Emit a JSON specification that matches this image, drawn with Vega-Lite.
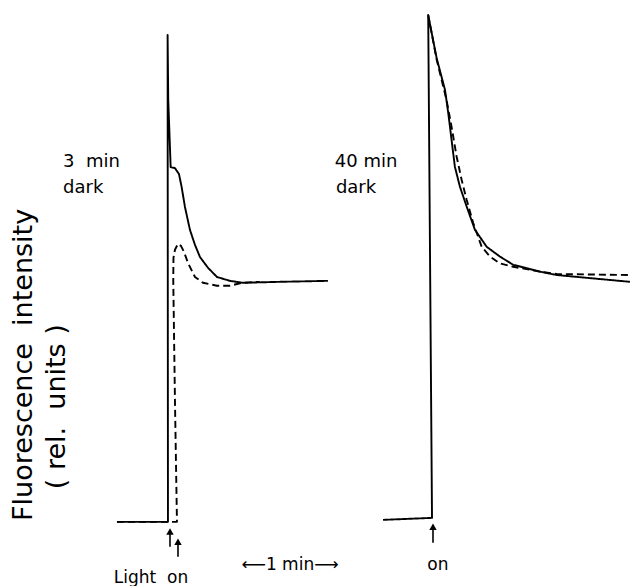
{
  "$schema": "https://vega.github.io/schema/vega-lite/v6.json",
  "width": 632,
  "height": 586,
  "autosize": {"type": "fit", "contains": "padding"},
  "padding": 0,
  "background": "white",
  "config": {"view": {"stroke": null}},
  "datasets": {
    "curves": [
      {"panel": "3 min dark", "series": "trace 1", "i": 1, "t": -29.45, "f": 0},
      {"panel": "3 min dark", "series": "trace 1", "i": 2, "t": 0, "f": 0},
      {"panel": "3 min dark", "series": "trace 1", "i": 3, "t": -0.2, "f": 100.2},
      {"panel": "3 min dark", "series": "trace 1", "i": 4, "t": 0.17, "f": 86.8},
      {"panel": "3 min dark", "series": "trace 1", "i": 5, "t": 1.56, "f": 73.0},
      {"panel": "3 min dark", "series": "trace 1", "i": 6, "t": 4.04, "f": 72.8},
      {"panel": "3 min dark", "series": "trace 1", "i": 7, "t": 6.35, "f": 71.6},
      {"panel": "3 min dark", "series": "trace 1", "i": 8, "t": 7.91, "f": 68.9},
      {"panel": "3 min dark", "series": "trace 1", "i": 9, "t": 9.82, "f": 64.8},
      {"panel": "3 min dark", "series": "trace 1", "i": 10, "t": 12.7, "f": 60.1},
      {"panel": "3 min dark", "series": "trace 1", "i": 11, "t": 15.6, "f": 57.0},
      {"panel": "3 min dark", "series": "trace 1", "i": 12, "t": 18.5, "f": 54.5},
      {"panel": "3 min dark", "series": "trace 1", "i": 13, "t": 23.1, "f": 52.3},
      {"panel": "3 min dark", "series": "trace 1", "i": 14, "t": 28.3, "f": 50.4},
      {"panel": "3 min dark", "series": "trace 1", "i": 15, "t": 35.8, "f": 49.6},
      {"panel": "3 min dark", "series": "trace 1", "i": 16, "t": 43.3, "f": 49.2},
      {"panel": "3 min dark", "series": "trace 1", "i": 17, "t": 64.7, "f": 49.4},
      {"panel": "3 min dark", "series": "trace 1", "i": 18, "t": 92.4, "f": 49.6},

      {"panel": "3 min dark", "series": "trace 2", "i": 1, "t": -29.45, "f": 0},
      {"panel": "3 min dark", "series": "trace 2", "i": 2, "t": 5.2, "f": 0},
      {"panel": "3 min dark", "series": "trace 2", "i": 3, "t": 4.04, "f": 25.1},
      {"panel": "3 min dark", "series": "trace 2", "i": 4, "t": 3.06, "f": 49.8},
      {"panel": "3 min dark", "series": "trace 2", "i": 5, "t": 3.18, "f": 54.3},
      {"panel": "3 min dark", "series": "trace 2", "i": 6, "t": 4.04, "f": 56.0},
      {"panel": "3 min dark", "series": "trace 2", "i": 7, "t": 5.78, "f": 57.2},
      {"panel": "3 min dark", "series": "trace 2", "i": 8, "t": 7.51, "f": 56.8},
      {"panel": "3 min dark", "series": "trace 2", "i": 9, "t": 9.24, "f": 55.6},
      {"panel": "3 min dark", "series": "trace 2", "i": 10, "t": 11.55, "f": 53.3},
      {"panel": "3 min dark", "series": "trace 2", "i": 11, "t": 15.6, "f": 50.4},
      {"panel": "3 min dark", "series": "trace 2", "i": 12, "t": 20.2, "f": 49.2},
      {"panel": "3 min dark", "series": "trace 2", "i": 13, "t": 28.3, "f": 48.6},
      {"panel": "3 min dark", "series": "trace 2", "i": 14, "t": 35.8, "f": 48.6},
      {"panel": "3 min dark", "series": "trace 2", "i": 15, "t": 42.7, "f": 49.2},
      {"panel": "3 min dark", "series": "trace 2", "i": 16, "t": 53.1, "f": 49.4},

      {"panel": "40 min dark", "series": "trace 1", "i": 1, "t": 124.2, "f": 0.41},
      {"panel": "40 min dark", "series": "trace 1", "i": 2, "t": 152.5, "f": 0.82},
      {"panel": "40 min dark", "series": "trace 1", "i": 3, "t": 150.3, "f": 104.3},
      {"panel": "40 min dark", "series": "trace 1", "i": 4, "t": 155.2, "f": 95.4},
      {"panel": "40 min dark", "series": "trace 1", "i": 5, "t": 160.0, "f": 88.9},
      {"panel": "40 min dark", "series": "trace 1", "i": 6, "t": 161.9, "f": 84.1},
      {"panel": "40 min dark", "series": "trace 1", "i": 7, "t": 163.8, "f": 78.6},
      {"panel": "40 min dark", "series": "trace 1", "i": 8, "t": 165.7, "f": 73.1},
      {"panel": "40 min dark", "series": "trace 1", "i": 9, "t": 168.6, "f": 69.0},
      {"panel": "40 min dark", "series": "trace 1", "i": 10, "t": 172.5, "f": 64.9},
      {"panel": "40 min dark", "series": "trace 1", "i": 11, "t": 177.3, "f": 60.1},
      {"panel": "40 min dark", "series": "trace 1", "i": 12, "t": 184.1, "f": 56.6},
      {"panel": "40 min dark", "series": "trace 1", "i": 13, "t": 191.7, "f": 54.6},
      {"panel": "40 min dark", "series": "trace 1", "i": 14, "t": 199.4, "f": 52.9},
      {"panel": "40 min dark", "series": "trace 1", "i": 15, "t": 214.8, "f": 51.5},
      {"panel": "40 min dark", "series": "trace 1", "i": 16, "t": 224.5, "f": 50.8},
      {"panel": "40 min dark", "series": "trace 1", "i": 17, "t": 266.8, "f": 49.4},

      {"panel": "40 min dark", "series": "trace 2", "i": 1, "t": 150.3, "f": 104.3},
      {"panel": "40 min dark", "series": "trace 2", "i": 2, "t": 155.2, "f": 95.1},
      {"panel": "40 min dark", "series": "trace 2", "i": 3, "t": 159.0, "f": 89.6},
      {"panel": "40 min dark", "series": "trace 2", "i": 4, "t": 160.9, "f": 86.8},
      {"panel": "40 min dark", "series": "trace 2", "i": 5, "t": 163.8, "f": 81.3},
      {"panel": "40 min dark", "series": "trace 2", "i": 6, "t": 166.7, "f": 75.2},
      {"panel": "40 min dark", "series": "trace 2", "i": 7, "t": 169.6, "f": 70.4},
      {"panel": "40 min dark", "series": "trace 2", "i": 8, "t": 172.5, "f": 66.3},
      {"panel": "40 min dark", "series": "trace 2", "i": 9, "t": 176.3, "f": 61.5},
      {"panel": "40 min dark", "series": "trace 2", "i": 10, "t": 181.2, "f": 56.6},
      {"panel": "40 min dark", "series": "trace 2", "i": 11, "t": 186.0, "f": 54.6},
      {"panel": "40 min dark", "series": "trace 2", "i": 12, "t": 191.7, "f": 53.2},
      {"panel": "40 min dark", "series": "trace 2", "i": 13, "t": 199.4, "f": 52.5},
      {"panel": "40 min dark", "series": "trace 2", "i": 14, "t": 214.8, "f": 51.5},
      {"panel": "40 min dark", "series": "trace 2", "i": 15, "t": 224.5, "f": 51.0},
      {"panel": "40 min dark", "series": "trace 2", "i": 16, "t": 266.8, "f": 50.8}
    ],
    "arrows": [
      {"event": "light on, 3 min dark, trace 1", "t": 1.18, "f": -5.14, "f_tip": -2.0},
      {"event": "light on, 3 min dark, trace 2", "t": 5.8, "f": -7.2, "f_tip": -4.1},
      {"event": "light on, 40 min dark", "t": 153.07, "f": -4.32, "f_tip": -1.0}
    ]
  },
  "encoding": {
    "x": {"field": "t", "type": "quantitative", "scale": {"domain": [-97, 268], "nice": false, "zero": false}, "axis": null},
    "y": {"field": "f", "type": "quantitative", "scale": {"domain": [-13.2, 107.4], "nice": false, "zero": false}, "axis": null}
  },
  "layer": [
    {
      "data": {"name": "curves"},
      "mark": {"type": "line", "color": "#000000", "strokeWidth": 1.9, "strokeJoin": "round", "strokeCap": "butt"},
      "encoding": {
        "detail": {"field": "panel", "type": "nominal"},
        "strokeDash": {"field": "series", "type": "nominal", "scale": {"domain": ["trace 1", "trace 2"], "range": [[1, 0], [7, 4]]}, "legend": null},
        "order": {"field": "i", "type": "quantitative"}
      }
    },
    {
      "data": {"name": "arrows"},
      "mark": {"type": "rule", "color": "#000000", "strokeWidth": 1.6},
      "encoding": {"y2": {"field": "f_tip"}}
    },
    {
      "data": {"name": "arrows"},
      "mark": {"type": "point", "shape": "triangle-up", "filled": true, "color": "#000000", "size": 55, "opacity": 1},
      "encoding": {"y": {"field": "f_tip", "type": "quantitative"}}
    },
    {
      "data": {"values": [
        {"t": -60.6, "f": 74.0, "label": "3\u00a0\u00a0min"},
        {"t": -60.6, "f": 68.8, "label": "dark"},
        {"t": 96.4, "f": 74.1, "label": "40\u00a0min"},
        {"t": 97.0, "f": 68.8, "label": "dark"}
      ]},
      "mark": {"type": "text", "align": "left", "baseline": "middle", "font": "DejaVu Sans", "fontSize": 18, "color": "#000000"},
      "encoding": {"text": {"field": "label"}}
    },
    {
      "data": {"values": [
        {"t": -83.1, "f": 32.3, "label": "Fluorescence\u00a0\u00a0intensity"},
        {"t": -64.1, "f": 23.7, "label": "(\u00a0rel.\u00a0\u00a0units\u00a0)"}
      ]},
      "mark": {"type": "text", "align": "center", "baseline": "middle", "angle": 270, "font": "DejaVu Sans", "fontSize": 27, "color": "#000000"},
      "encoding": {"text": {"field": "label"}}
    },
    {
      "data": {"values": [
        {"t": -9.8, "f": -11.5, "label": "Light\u00a0\u00a0on"},
        {"t": 155.9, "f": -8.85, "label": "on"},
        {"t": 70.5, "f": -8.85, "label": "⟵1 min⟶"}
      ]},
      "mark": {"type": "text", "align": "center", "baseline": "middle", "font": "DejaVu Sans", "fontSize": 17, "color": "#000000"},
      "encoding": {"text": {"field": "label"}}
    }
  ]
}
